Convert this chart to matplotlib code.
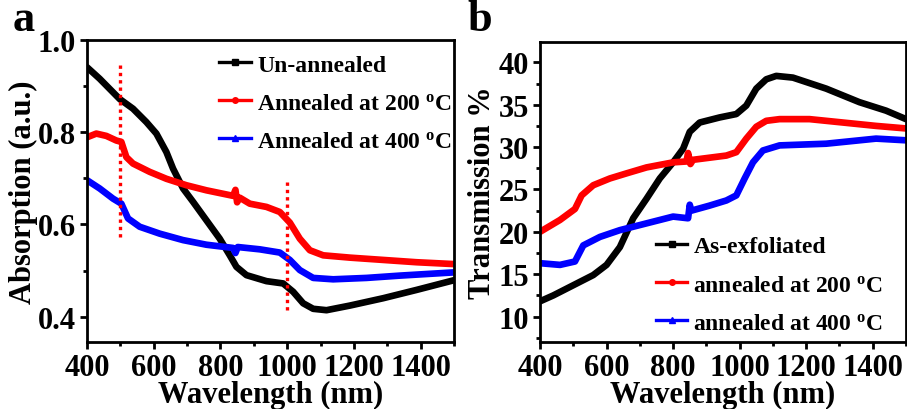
import matplotlib
matplotlib.use("Agg")
import matplotlib.pyplot as plt
from matplotlib.lines import Line2D
from matplotlib.ticker import MultipleLocator

plt.rcParams['font.family'] = ['Liberation Serif', 'DejaVu Serif']
plt.rcParams['font.weight'] = 'bold'

# ---- Panel a: absorption ----
wl_a_black = [400, 438, 498, 538, 578, 608, 638, 658, 688, 718, 758, 798, 828, 848, 878,
              938, 988, 1018, 1048, 1078, 1118, 1188, 1288, 1388, 1500]
abs_black = [0.941, 0.916, 0.872, 0.851, 0.822, 0.797, 0.757, 0.721, 0.678, 0.649, 0.609,
             0.569, 0.533, 0.508, 0.490, 0.477, 0.472, 0.454, 0.429, 0.417, 0.414, 0.424,
             0.440, 0.458, 0.479]

wl_a_red = [400, 428, 458, 488, 503, 518, 538, 588, 638, 698, 758, 838, 845, 850, 858, 888,
            938, 978, 1008, 1038, 1068, 1108, 1188, 1288, 1388, 1500]
abs_red = [0.789, 0.797, 0.792, 0.782, 0.779, 0.746, 0.732, 0.714, 0.699, 0.685, 0.674,
           0.662, 0.675, 0.648, 0.658, 0.645, 0.638, 0.627, 0.604, 0.569, 0.544, 0.533,
           0.528, 0.523, 0.518, 0.514]

wl_a_blue = [400, 438, 478, 503, 523, 558, 618, 688, 758, 838, 845, 852, 918, 978, 1008,
             1038, 1078, 1138, 1238, 1338, 1500]
abs_blue = [0.696, 0.678, 0.656, 0.645, 0.613, 0.595, 0.580, 0.566, 0.556, 0.549, 0.538,
            0.551, 0.546, 0.539, 0.523, 0.501, 0.484, 0.481, 0.484, 0.489, 0.496]

marker_lines_a = [500, 1000]
marker_span_a = [(0.573, 0.948), (0.414, 0.692)]

labels_a = ['Un-annealed', 'Annealed at 200 $\\mathregular{^{o}}$C', 'Annealed at 400 $\\mathregular{^{o}}$C']

# ---- Panel b: transmission ----
wl_b_black = [400, 440, 500, 560, 600, 640, 680, 720, 760, 800, 830, 850, 880, 940, 990,
              1020, 1050, 1080, 1110, 1160, 1260, 1360, 1440, 1500]
tr_black = [11.8, 12.5, 13.7, 14.9, 16.1, 18.2, 21.6, 23.9, 26.3, 28.2, 29.8, 31.8, 32.9,
            33.5, 33.9, 34.9, 36.9, 38.0, 38.4, 38.2, 36.9, 35.3, 34.3, 33.3]

wl_b_red = [400, 460, 505, 525, 560, 610, 660, 720, 800, 840, 845, 852, 860, 960, 990,
            1020, 1050, 1080, 1120, 1210, 1310, 1410, 1500]
tr_red = [20.0, 21.4, 22.7, 24.3, 25.5, 26.3, 26.9, 27.6, 28.2, 28.3, 29.3, 28.0, 28.5,
          29.0, 29.4, 31.0, 32.4, 33.1, 33.3, 33.3, 32.9, 32.5, 32.2]

wl_b_blue = [400, 460, 505, 530, 580, 640, 720, 800, 845, 850, 855, 910, 960, 990, 1015,
             1040, 1070, 1120, 1260, 1410, 1500]
tr_blue = [16.3, 16.1, 16.5, 18.4, 19.4, 20.2, 21.0, 21.8, 21.6, 23.2, 22.5, 23.1, 23.7,
           24.3, 26.3, 28.2, 29.6, 30.2, 30.4, 31.0, 30.8]

labels_b = ['As-exfoliated', 'annealed at 200 $\\mathregular{^{o}}$C', 'annealed at 400 $\\mathregular{^{o}}$C']

colors = ['black', '#ff0000', '#0000ff']
markers = ['s', 'o', '^']

fig = plt.figure(figsize=(9.07, 4.10), dpi=100)
ax1 = fig.add_axes([0.0959, 0.1634, 0.4046, 0.7366])
ax2 = fig.add_axes([0.5954, 0.1634, 0.4035, 0.7317])

lw = 4.8
kw = dict(lw=lw, solid_joinstyle='round', solid_capstyle='round')
ax1.plot(wl_a_black, abs_black, color=colors[0], **kw)
ax1.plot(wl_a_red, abs_red, color=colors[1], **kw)
ax1.plot(wl_a_blue, abs_blue, color=colors[2], **kw)
for x, (y0, y1) in zip(marker_lines_a, marker_span_a):
    ax1.plot([x, x], [y0, y1], color='#ff0000', lw=2.4, ls=(0, (1, 1.2)))

ax2.plot(wl_b_black, tr_black, color=colors[0], **kw)
ax2.plot(wl_b_red, tr_red, color=colors[1], **kw)
ax2.plot(wl_b_blue, tr_blue, color=colors[2], **kw)

ax1.set_xlim(400, 1500)
ax1.set_ylim(0.345, 1.0)
ax1.yaxis.set_minor_locator(MultipleLocator(0.1))
ax1.set_yticks([0.4, 0.6, 0.8, 1.0])
ax1.set_yticklabels(['0.4', '0.6', '0.8', '1.0'])

ax2.set_xlim(400, 1500)
ax2.set_ylim(7.0, 42.4)
ax2.yaxis.set_minor_locator(MultipleLocator(2.5))
ax2.set_yticks([10, 15, 20, 25, 30, 35, 40])

for ax in (ax1, ax2):
    ax.xaxis.set_minor_locator(MultipleLocator(100))
    ax.set_xticks([400, 600, 800, 1000, 1200, 1400])
    for s in ax.spines.values():
        s.set_linewidth(2.0)
    ax.tick_params(which='major', direction='out', length=5, width=2, labelsize=22, pad=3)
    ax.tick_params(axis='x', which='major', pad=3)
    ax.tick_params(which='minor', direction='out', length=3, width=2)
    for lab in ax.get_xticklabels() + ax.get_yticklabels():
        lab.set_fontweight('bold')
    ax.set_xlabel('Wavelength (nm)', fontsize=22, fontweight='bold', labelpad=-1.5)

ax1.set_ylabel('Absorption (a.u.)', fontsize=22, fontweight='bold', labelpad=0)
ax2.set_ylabel('Transmission %', fontsize=22, fontweight='bold', labelpad=1)

handles = [Line2D([], [], color=c, lw=2.4, marker=m, markersize=4) for c, m in zip(colors, markers)]
ax1.legend(handles, labels_a, loc='upper left', bbox_to_anchor=(0.335, 0.985), frameon=False,
           prop={'size': 17, 'weight': 'bold'}, handlelength=1.35, handletextpad=0.25,
           labelspacing=0.7, borderaxespad=0)
ax2.legend(handles, labels_b, loc='upper left', bbox_to_anchor=(0.29, 0.385), frameon=False,
           prop={'size': 17, 'weight': 'bold'}, handlelength=1.35, handletextpad=0.25,
           labelspacing=0.7, borderaxespad=0)

fig.text(0.014, 1.0, 'a', fontsize=32, fontweight='bold', va='top', ha='left')
fig.text(0.515, 1.0, 'b', fontsize=32, fontweight='bold', va='top', ha='left')

fig.savefig('out.png', dpi=100)
